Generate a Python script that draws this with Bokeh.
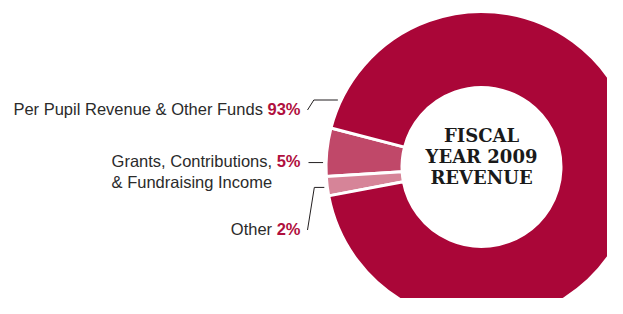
import math
from bokeh.plotting import figure
from bokeh.models import Range1d, ColumnDataSource
from bokeh.core.properties import value
from bokeh.embed import file_html
from bokeh.resources import INLINE

# ---- data ----
categories = ["Per Pupil Revenue & Other Funds", "Grants, Contributions,", "Other"]
extra_lines = ["", "& Fundraising Income", ""]
values = [93, 5, 2]
pct_labels = ["93%", "5%", "2%"]
colors = ["#AA0638", "#C04869", "#D68498"]
center_lines = ["FISCAL", "YEAR 2009", "REVENUE"]

# ---- layout (page pixel coords, y measured downward) ----
W, H = 607, 298
PAGE_H = 314
OX, OY = 0, 0                    # where the frame lands on the photographed page
TEXT_DY = 7                      # baseline correction for svg text
cx, cy = 481, 166.5
R_out, R_in = 155.5, 79.5
start_deg = 165.5                # where the second category starts
draw_order = [1, 2, 0]           # counter-clockwise order of slices
label_x_end = 300
label_baselines = [115, 167, 235]
center_baselines = [142, 163, 184]
anchor_deg = [155, 178.4, 187.4]
elbow_len = [24, 0, 10]
font_px = 16.5

def Y(y):
    return PAGE_H - y

def TY(y):
    return PAGE_H - (y - TEXT_DY)

p = figure(width=W, height=H, output_backend="svg", toolbar_location=None,
           x_range=Range1d(OX, OX + W), y_range=Range1d(PAGE_H - OY - H, PAGE_H - OY),
           x_axis_type=None, y_axis_type=None, min_border=0)
p.outline_line_color = None
p.grid.visible = False
p.background_fill_color = "white"
p.border_fill_color = "white"

total = sum(values)
starts, ends, cols = [], [], []
a = math.radians(start_deg)
for i in draw_order:
    span = 2 * math.pi * values[i] / total
    starts.append(a)
    ends.append(a + span)
    cols.append(colors[i])
    a += span

src = ColumnDataSource(dict(x=[cx] * 3, y=[Y(cy)] * 3, s=starts, e=ends, c=cols))
p.annular_wedge(x="x", y="y", inner_radius=R_in, outer_radius=R_out,
                inner_radius_units="screen", outer_radius_units="screen",
                start_angle="s", end_angle="e", fill_color="c",
                line_color="white", line_width=3, source=src)

# Arial/Liberation Sans advance widths (em)
REG = {'G': .778, 'r': .333, 'a': .556, 'n': .556, 't': .278, 's': .5, ',': .278,
       ' ': .278, 'C': .722, 'o': .556, 'i': .222, 'b': .556, 'u': .556}
BOLD = {'0': .556, '1': .556, '2': .556, '3': .556, '4': .556, '5': .556,
        '6': .556, '7': .556, '8': .556, '9': .556, '%': .889}

def width(s, table):
    return sum(table.get(ch, .556) for ch in s) * font_px

name_x, name_y, name_t = [], [], []
pct_x, pct_y = [], []
ex_x, ex_y, ex_t = [], [], []
lx, ly = [], []
for i, cat in enumerate(categories):
    bl = label_baselines[i]
    pct_x.append(label_x_end)
    pct_y.append(TY(bl))
    pw = width(pct_labels[i], BOLD) + 0.278 * font_px
    name_x.append(label_x_end - pw)
    name_y.append(TY(bl))
    name_t.append(cat)
    if extra_lines[i]:
        ex_x.append(label_x_end - pw - width(cat + " ", REG) + 0.278 * font_px)
        ex_y.append(TY(bl + 21))
        ex_t.append(extra_lines[i])
    ang = math.radians(anchor_deg[i])
    ex = cx + (R_out + 3) * math.cos(ang)
    ey = cy - (R_out + 3) * math.sin(ang)
    xs = [label_x_end + 7, ex - elbow_len[i], ex]
    ys = [bl - 5.5, ey, ey]
    if elbow_len[i] == 0:
        xs = [label_x_end + 8, ex]
        ys = [ey, ey]
    lx.append(xs)
    ly.append([Y(v) for v in ys])

p.multi_line(xs=lx, ys=ly, line_color="#231F20", line_width=1)

p.text(x=name_x, y=name_y, text=name_t, text_align="right", text_baseline="alphabetic",
       text_font=value("Liberation Sans"), text_font_size=f"{font_px}px", text_color="#2B2B2B")
p.text(x=ex_x, y=ex_y, text=ex_t, text_align="left", text_baseline="alphabetic",
       text_font=value("Liberation Sans"), text_font_size=f"{font_px}px", text_color="#2B2B2B")
p.text(x=pct_x, y=pct_y, text=pct_labels, text_align="right", text_baseline="alphabetic",
       text_font=value("Liberation Sans"), text_font_size=f"{font_px}px",
       text_font_style="bold", text_color="#B0103E")

p.text(x=[cx] * 3, y=[TY(b) for b in center_baselines], text=center_lines, text_align="center",
       text_baseline="alphabetic", text_font=value("DejaVu Serif"), text_font_size="18px",
       text_font_style="bold", text_color="#1A1A1A")

open("out.html", "w").write(file_html(p, INLINE))
